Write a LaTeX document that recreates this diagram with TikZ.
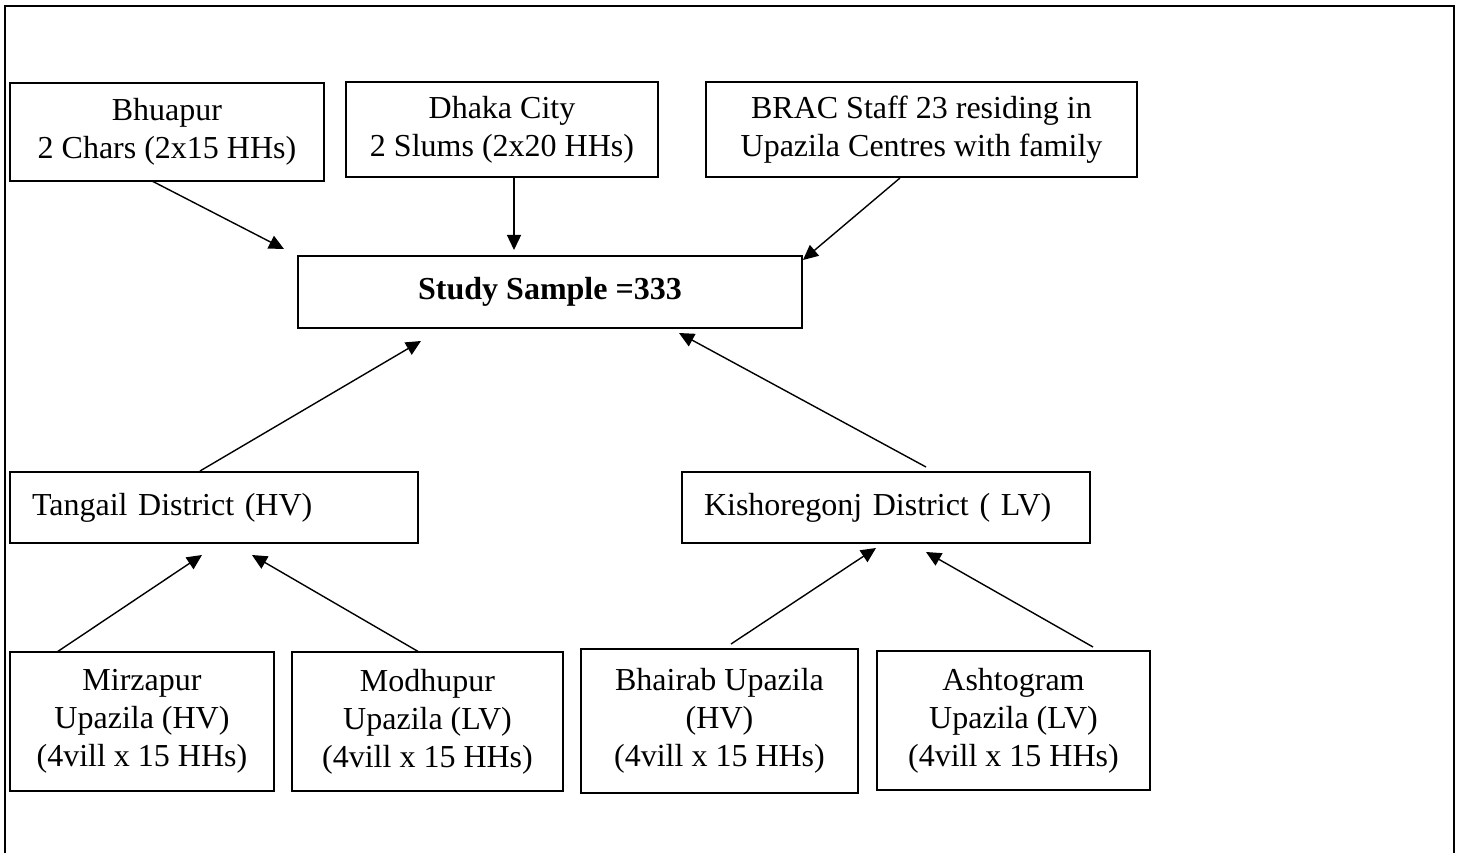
\documentclass[tikz,border=0pt]{standalone}
\usepackage{fontspec}
\setmainfont{Liberation Serif}
\usetikzlibrary{arrows.meta}
\tikzset{
  box/.style={draw=black, line width=1.8pt, inner sep=0pt, align=center,
    font=\fontsize{32}{38}\selectfont},
  lbox/.style={draw=black, line width=1.8pt, inner xsep=22pt, inner ysep=0pt,
    align=left, text width=364pt, font=\fontsize{32}{38}\selectfont},
  arr/.style={line width=1.4pt, -{Triangle[length=15pt,width=14pt]}},
  frame/.style={line width=2pt}
}
\begin{document}
\begin{tikzpicture}[x=1pt,y=-1pt]
\useasboundingbox (0,0) rectangle (1459,853);
\draw[frame] (5,853) -- (5,6) -- (1454,6) -- (1454,853);

\node[box, minimum width=314pt, minimum height=98pt] (bhu) at (167,132) {Bhuapur\\2 Chars (2x15 HHs)};
\node[box, minimum width=312pt, minimum height=95pt] (dhaka) at (502,129.5) {Dhaka City\\2 Slums (2x20 HHs)};
\node[box, minimum width=431pt, minimum height=95pt] (brac) at (921.5,129.5) {BRAC Staff 23 residing in\\Upazila Centres with family};
\node[box, minimum width=504pt, minimum height=72pt] (ss) at (550,292) {\textbf{Study Sample =333}};
\node[lbox, minimum height=71pt] (tan) at (214,507.5) {\mbox{Tangail District (HV)}};
\node[lbox, minimum height=71pt] (kis) at (886,507.5) {\mbox{Kishoregonj District ( LV)}};
\node[box, minimum width=264pt, minimum height=139pt] (mir) at (142,721.5) {Mirzapur\\Upazila (HV)\\(4vill x 15 HHs)};
\node[box, minimum width=271pt, minimum height=139pt] (mod) at (427.5,721.5) {Modhupur\\Upazila (LV)\\(4vill x 15 HHs)};
\node[box, minimum width=277pt, minimum height=144pt] (bha) at (719.5,721) {Bhairab Upazila\\(HV)\\(4vill x 15 HHs)};
\node[box, minimum width=273pt, minimum height=139pt] (ash) at (1013.5,720.5) {Ashtogram\\Upazila (LV)\\(4vill x 15 HHs)};

% arrow end points
\coordinate (bhuS) at (152,181);  \coordinate (bhuT) at (284,249);
\coordinate (dhaS) at (514,177);  \coordinate (dhaT) at (514,250);
\coordinate (braS) at (900,178);  \coordinate (braT) at (803,260);
\coordinate (tanS) at (200,471);  \coordinate (tanT) at (421,341);
\coordinate (kisS) at (926,467);  \coordinate (kisT) at (679,333);
\coordinate (mirS) at (57,652);   \coordinate (mirT) at (202,555);
\coordinate (modS) at (419,652);  \coordinate (modT) at (252,555);
\coordinate (bhaS) at (731,644);  \coordinate (bhaT) at (876,548);
\coordinate (ashS) at (1093,647); \coordinate (ashT) at (926,552);

\draw[arr] (bhuS) -- (bhuT);
\draw[arr] (dhaS) -- (dhaT);
\draw[arr] (braS) -- (braT);
\draw[arr] (tanS) -- (tanT);
\draw[arr] (kisS) -- (kisT);
\draw[arr] (mirS) -- (mirT);
\draw[arr] (modS) -- (modT);
\draw[arr] (bhaS) -- (bhaT);
\draw[arr] (ashS) -- (ashT);
\end{tikzpicture}
\end{document}
